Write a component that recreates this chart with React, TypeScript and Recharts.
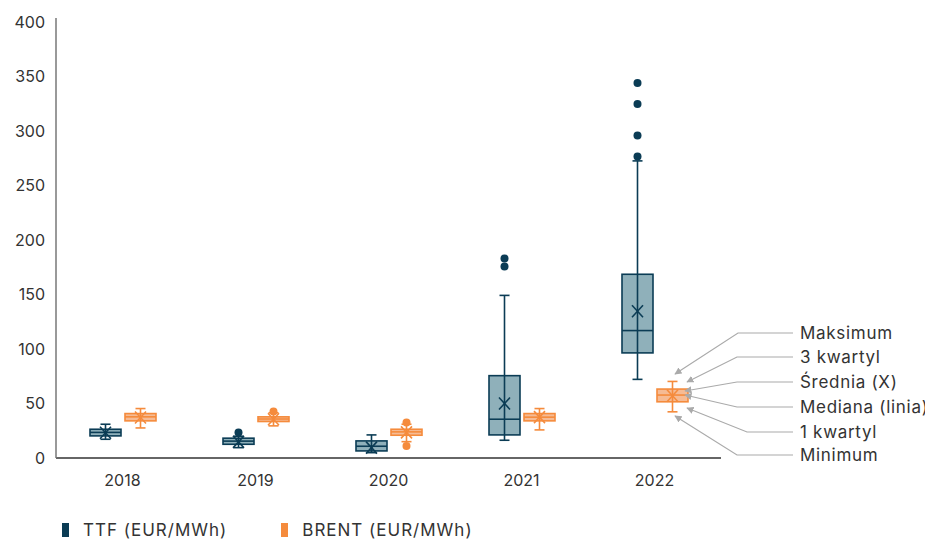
import React from 'react'
import { ComposedChart, Bar, XAxis, YAxis } from 'recharts'

const years = ['2018', '2019', '2020', '2021', '2022']

const ttfMin = [17.2, 9.5, 4.9, 16.3, 72.2]
const ttfQ1 = [20.3, 12.6, 6.5, 21.2, 96.5]
const ttfMedian = [23.5, 15.5, 10.8, 35.6, 117]
const ttfQ3 = [26.4, 18.2, 15.7, 75.6, 168.7]
const ttfMax = [31, 20, 21.2, 149.3, 272.8]
const ttfMean = [23.2, 14.8, 9.5, 50, 134.8]
const ttfOutliers = [[], [23.4], [], [175.8, 183.1], [276.8, 296.1, 325.1, 344.4]]

const brentMin = [27.6, 29.5, 15, 25.8, 42.4]
const brentQ1 = [34.1, 33.5, 20.9, 34.1, 51.6]
const brentMedian = [37.8, 35.8, 24, 37.5, 57.8]
const brentQ3 = [40.8, 37.8, 26.4, 40.8, 63.3]
const brentMax = [45.4, 41.5, 31, 45.4, 70.3]
const brentMean = [37.2, 35.6, 23.5, 37.5, 57.2]
const brentOutliers = [[], [42.7], [11, 32.5], [], []]

const yTicks = [0, 50, 100, 150, 200, 250, 300, 350, 400]

const legendItems = [
  { label: 'TTF (EUR/MWh)', color: '#0b3c55' },
  { label: 'BRENT (EUR/MWh)', color: '#f58b3c' },
]

const notes = ['Maksimum', '3 kwartyl', 'Średnia (X)', 'Mediana (linia)', '1 kwartyl', 'Minimum']

const data = years.map((year, i) => ({
  year,
  ttf: [ttfMin[i], ttfMax[i]],
  brent: [brentMin[i], brentMax[i]],
  ttfStats: { min: ttfMin[i], q1: ttfQ1[i], median: ttfMedian[i], q3: ttfQ3[i], max: ttfMax[i], mean: ttfMean[i], outliers: ttfOutliers[i] },
  brentStats: { min: brentMin[i], q1: brentQ1[i], median: brentMedian[i], q3: brentQ3[i], max: brentMax[i], mean: brentMean[i], outliers: brentOutliers[i] },
}))

function makeBox(statsKey: 'ttfStats' | 'brentStats', stroke: string, fill: string) {
  return (props: any) => {
    const { x, y, width, height, payload } = props
    const s = payload[statsKey]
    const top = Math.min(y, y + height)
    const bottom = Math.max(y, y + height)
    const py = (v: number) => bottom - ((v - s.min) / (s.max - s.min)) * (bottom - top)
    const cx = x + width / 2
    const cap = 5
    const mx = py(s.mean)
    return (
      <g>
        <rect x={x} y={py(s.q3)} width={width} height={py(s.q1) - py(s.q3)} fill={fill} />
        <line x1={cx} x2={cx} y1={py(s.max)} y2={py(s.min)} stroke={stroke} strokeWidth={1.6} />
        <line x1={cx - cap} x2={cx + cap} y1={py(s.max)} y2={py(s.max)} stroke={stroke} strokeWidth={1.6} />
        <line x1={cx - cap} x2={cx + cap} y1={py(s.min)} y2={py(s.min)} stroke={stroke} strokeWidth={1.6} />
        <rect x={x} y={py(s.q3)} width={width} height={py(s.q1) - py(s.q3)} fill="none" stroke={stroke} strokeWidth={1.6} />
        <line x1={x} x2={x + width} y1={py(s.median)} y2={py(s.median)} stroke={stroke} strokeWidth={1.6} />
        <line x1={cx - 5.5} x2={cx + 5.5} y1={mx - 6} y2={mx + 6} stroke={stroke} strokeWidth={1.6} />
        <line x1={cx - 5.5} x2={cx + 5.5} y1={mx + 6} y2={mx - 6} stroke={stroke} strokeWidth={1.6} />
        {s.outliers.map((o: number, k: number) => (
          <circle key={k} cx={cx} cy={py(o)} r={4} fill={stroke} />
        ))}
      </g>
    )
  }
}

const TtfBox = makeBox('ttfStats', '#0b3c55', '#8fb0ba')
const BrentBox = makeBox('brentStats', '#f58b3c', '#f6bb94')

// callout lines explaining the box parts (coords inside the wrapper)
const callouts = [
  { ty: 325, bx: 730, tx: 667, tipY: 366 },
  { ty: 349, bx: 729, tx: 679, tipY: 374 },
  { ty: 374, bx: 729, tx: 677, tipY: 383 },
  { ty: 399, bx: 729, tx: 677, tipY: 387 },
  { ty: 424, bx: 739, tx: 679, tipY: 400 },
  { ty: 447, bx: 729, tx: 667, tipY: 408 },
]

export default function App() {
  return (
    <div style={{ position: 'relative', width: 917, height: 531, fontFamily: 'Inter, sans-serif' }}>
      <ComposedChart
        width={917}
        height={523}
        data={data}
        margin={{ top: 10, right: 204, left: 0, bottom: 43 }}
        barSize={31}
        barGap={4}
      >
        <XAxis
          dataKey="year"
          axisLine={{ stroke: '#333', strokeWidth: 1.5 }}
          tickLine={false}
          tickSize={8}
          tickMargin={9}
          height={30}
          tick={{ fill: '#333', fontSize: 16 }}
        />
        <YAxis
          domain={[0, 404]}
          ticks={yTicks}
          width={48}
          axisLine={{ stroke: '#777', strokeWidth: 1.5 }}
          tickLine={false}
          tickSize={8}
          tickMargin={3}
          tick={{ fill: '#333', fontSize: 16 }}
        />
        <Bar dataKey="ttf" shape={TtfBox} isAnimationActive={false} />
        <Bar dataKey="brent" shape={BrentBox} isAnimationActive={false} />
      </ComposedChart>

      <svg width={925} height={523} style={{ position: 'absolute', left: 0, top: 0, pointerEvents: 'none', overflow: 'visible' }}>
        <defs>
          <marker id="arr" viewBox="0 0 10 10" refX="9" refY="5" markerWidth="6" markerHeight="6" orient="auto">
            <path d="M0,0 L10,5 L0,10 z" fill="#aaa" />
          </marker>
        </defs>
        {callouts.map((c, i) => (
          <g key={i}>
            <polyline
              points={`785,${c.ty} ${c.bx},${c.ty} ${c.tx},${c.tipY}`}
              fill="none"
              stroke="#aaa"
              strokeWidth={1.2}
              markerEnd="url(#arr)"
            />
            <text x={792} y={c.ty} dominantBaseline="central" fontSize={17} letterSpacing={0.7} fill="#333">
              {notes[i]}
            </text>
          </g>
        ))}
      </svg>

      <div style={{ position: 'absolute', left: 54, top: 511, display: 'flex', fontSize: 17, letterSpacing: 1, color: '#333', lineHeight: '22px' }}>
        {legendItems.map((it, i) => (
          <div key={it.label} style={{ display: 'flex', alignItems: 'center', marginRight: i === 0 ? 54 : 0 }}>
            <span style={{ display: 'inline-block', width: 7, height: 14, background: it.color, marginRight: 14 }} />
            <span>{it.label}</span>
          </div>
        ))}
      </div>
    </div>
  )
}
